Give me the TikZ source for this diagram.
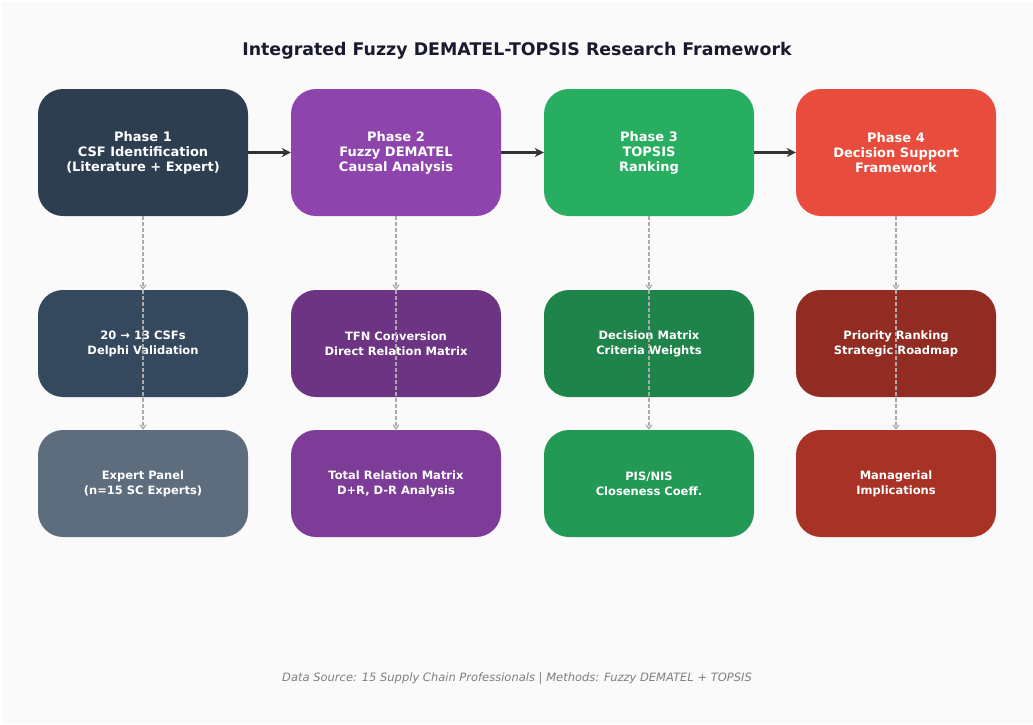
\documentclass[tikz,border=0pt]{standalone}
\usepackage{fontspec}
\setmainfont{DejaVu Sans}
\usetikzlibrary{arrows.meta}
\definecolor{bg}{HTML}{FAFAFA}
\definecolor{titlec}{HTML}{1A1A2E}
\definecolor{aa}{HTML}{2C3E50}\definecolor{ab}{HTML}{8E44AD}\definecolor{ac}{HTML}{27AE60}\definecolor{ad}{HTML}{E74C3C}
\definecolor{ba}{HTML}{34495E}\definecolor{bb}{HTML}{6C3483}\definecolor{bc}{HTML}{1E8449}\definecolor{bd}{HTML}{922B21}
\definecolor{ca}{HTML}{5D6D7E}\definecolor{cb}{HTML}{7D3C98}\definecolor{cc}{HTML}{229954}\definecolor{cd}{HTML}{A93226}
\definecolor{arr}{HTML}{333333}
\definecolor{dash}{HTML}{AAAAAA}
\definecolor{foot}{HTML}{7F7F7F}
\begin{document}
\begin{tikzpicture}[x=1pt,y=-1pt,
  phasebox/.style={rounded corners=25pt,inner sep=0pt,text=white,align=center,
    font=\fontsize{13}{15}\selectfont\bfseries},
  subbox/.style={rounded corners=25pt,inner sep=0pt,text=white,align=center,
    font=\fontsize{11.5}{15}\selectfont\bfseries},
  flow/.style={draw=arr,line width=2.4pt,-{Stealth[length=9pt,width=9pt]}},
  dlink/.style={draw=dash,line width=1.2pt,dash pattern=on 4pt off 2pt,-{Straight Barb[length=4pt,width=6pt]}}]
\fill[white] (0,0) rectangle (1033,724);
\fill[bg] (1.5,1.5) rectangle (1033,724);
\node[font=\fontsize{17.4}{20}\selectfont\bfseries,text=titlec] (title) at (517,51) {Integrated Fuzzy DEMATEL-TOPSIS Research Framework};
% row 1
\node[phasebox,fill=aa,minimum width=210pt,minimum height=127pt] (p1) at (143,152.5) {Phase 1\\CSF Identification\\(Literature + Expert)};
\node[phasebox,fill=ab,minimum width=210pt,minimum height=127pt] (p2) at (396,152.5) {Phase 2\\Fuzzy DEMATEL\\Causal Analysis};
\node[phasebox,fill=ac,minimum width=210pt,minimum height=127pt] (p3) at (649,152.5) {Phase 3\\TOPSIS\\Ranking};
\node[phasebox,fill=ad,minimum width=200pt,minimum height=127pt] (p4) at (896,152.5) {Phase 4\\Decision Support\\Framework};
% row 2
\node[subbox,fill=ba,minimum width=210pt,minimum height=107pt] (s1) at (143,343.5) {20 → 13 CSFs\\Delphi Validation};
\node[subbox,fill=bb,minimum width=210pt,minimum height=107pt] (s2) at (396,343.5) {TFN Conversion\\Direct Relation Matrix};
\node[subbox,fill=bc,minimum width=210pt,minimum height=107pt] (s3) at (649,343.5) {Decision Matrix\\Criteria Weights};
\node[subbox,fill=bd,minimum width=200pt,minimum height=107pt] (s4) at (896,343.5) {Priority Ranking\\Strategic Roadmap};
% row 3
\node[subbox,fill=ca,minimum width=210pt,minimum height=107pt] (t1) at (143,483.5) {Expert Panel\\(n=15 SC Experts)};
\node[subbox,fill=cb,minimum width=210pt,minimum height=107pt] (t2) at (396,483.5) {Total Relation Matrix\\D+R, D-R Analysis};
\node[subbox,fill=cc,minimum width=210pt,minimum height=107pt] (t3) at (649,483.5) {PIS/NIS\\Closeness Coeff.};
\node[subbox,fill=cd,minimum width=200pt,minimum height=107pt] (t4) at (896,483.5) {Managerial\\Implications};
% flow arrows
\draw[flow] (p1.east) -- (p2.west);
\draw[flow] (p2.east) -- (p3.west);
\draw[flow] (p3.east) -- (p4.west);
% dashed links
\foreach \a/\b/\c in {p1/s1/t1,p2/s2/t2,p3/s3/t3,p4/s4/t4}{
  \draw[dlink] (\a.south) -- (\b.north);
  \draw[dlink] (\b.north) -- (\c.north);
}
\node[font=\fontsize{11.5}{13}\selectfont\itshape,text=foot] (footer) at (517,678) {Data Source: 15 Supply Chain Professionals | Methods: Fuzzy DEMATEL + TOPSIS};
\end{tikzpicture}
\end{document}
